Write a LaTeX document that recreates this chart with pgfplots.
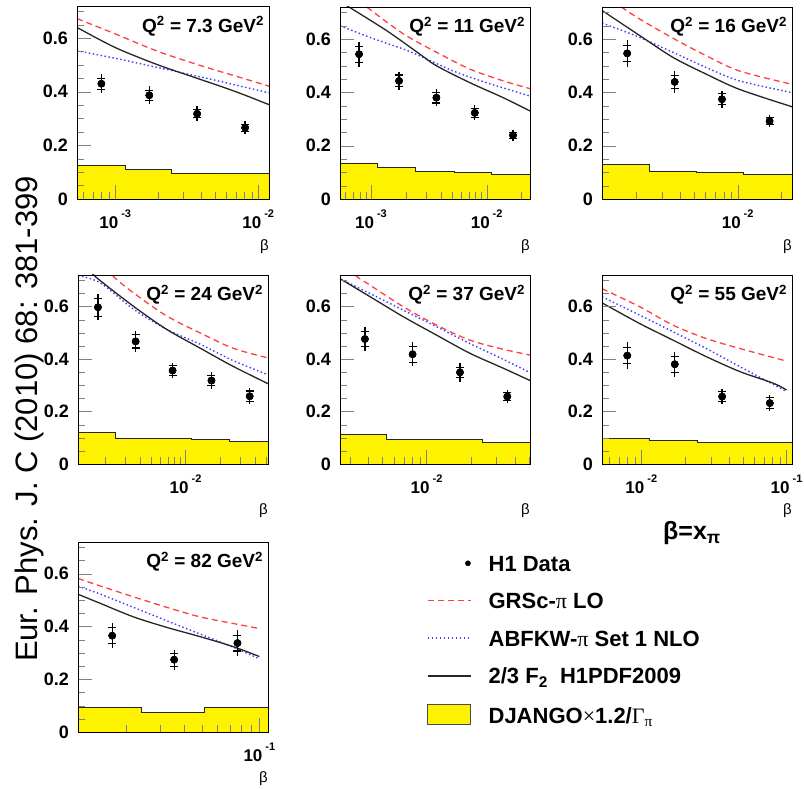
\documentclass[border=0pt]{standalone}
\usepackage{pgfplots}
\usepackage{pgfplotstable}
\pgfplotsset{compat=1.18}
\usepackage{fontspec}
\setmainfont{Liberation Sans}
\newfontfamily\symfont{Liberation Serif}
\definecolor{hred}{rgb}{1,0.25,0.25}
\definecolor{hblue}{rgb}{0.25,0.25,1}
\newcommand\decl[1]{\fontsize{17}{17}\selectfont\bfseries 10\hspace{3pt}\raisebox{11pt}{\fontsize{11}{11}\selectfont\bfseries #1}}
\newcommand\qtitle[1]{\node[anchor=base east, inner sep=0pt, font=\fontsize{19}{19}\selectfont\bfseries] at (rel axis cs:0.975,0.865) {Q\textsuperscript{2} = #1 GeV\textsuperscript{2}};}
\pgfplotsset{
 redc/.style={hred, line width=1.3pt, dash pattern=on 6pt off 4pt, smooth, no markers, forget plot},
 bluec/.style={hblue, line width=1.4pt, dash pattern=on 1.5pt off 2.5pt, smooth, no markers, forget plot},
 blackc/.style={black!85, line width=1.3pt, smooth, no markers, forget plot},
 yhist/.style={const plot, fill=yellow, draw=black!85, line width=0.9pt, no markers, forget plot},
}
\pgfplotstableread{
x y stat tot
8.0e-4 0.430 0.020 0.036
1.73e-3 0.387 0.018 0.033
3.74e-3 0.318 0.015 0.028
8.1e-3 0.266 0.013 0.025
}\tabA
\pgfplotstableread{
x y stat tot
7.9e-4 0.543 0.030 0.047
1.75e-3 0.443 0.022 0.035
3.68e-3 0.380 0.020 0.032
7.9e-3 0.323 0.018 0.028
1.69e-2 0.239 0.012 0.020
}\tabB
\pgfplotstableread{
x y stat tot
1.73e-3 0.546 0.030 0.050
3.68e-3 0.439 0.025 0.040
7.8e-3 0.374 0.020 0.032
1.66e-2 0.292 0.014 0.022
}\tabC
\pgfplotstableread{
x y stat tot
1.73e-3 0.597 0.035 0.050
3.68e-3 0.467 0.025 0.040
7.71e-3 0.356 0.018 0.030
1.68e-2 0.318 0.020 0.032
3.61e-2 0.258 0.020 0.030
}\tabD
\pgfplotstableread{
x y stat tot
3.8e-3 0.476 0.030 0.047
8.03e-3 0.418 0.030 0.045
1.69e-2 0.349 0.020 0.035
3.55e-2 0.257 0.015 0.025
}\tabE
\pgfplotstableread{
x y stat tot
8.0e-3 0.413 0.030 0.050
1.7e-2 0.380 0.030 0.048
3.6e-2 0.257 0.018 0.030
7.67e-2 0.232 0.020 0.032
}\tabF
\pgfplotstableread{
x y stat tot
1.68e-2 0.365 0.030 0.048
3.56e-2 0.274 0.025 0.038
7.67e-2 0.337 0.030 0.048
}\tabG
\newcommand\datapts[1]{%
\addplot[only marks, mark=*, mark size=3.6pt, black, forget plot,
   error bars/.cd, y dir=both, y explicit, error bar style={line width=1.3pt, black}, error mark=none]
   table[x=x, y=y, y error=tot] {#1};
\addplot[only marks, mark=*, mark size=3.6pt, black, forget plot,
   error bars/.cd, y dir=both, y explicit, error bar style={line width=1.3pt, black}, error mark=-,
   error mark options={rotate=90, line width=1.1pt, mark size=4pt, black}]
   table[x=x, y=y, y error=stat] {#1};}
\begin{document}
\begin{tikzpicture}
\useasboundingbox (0pt,0pt) rectangle (804pt,788pt);
\node[rotate=90, anchor=base, inner sep=0pt, font=\fontsize{31}{31}\selectfont] at (37pt,369pt) {Eur. Phys. J. C (2010) 68: 381-399};
\node[anchor=base, inner sep=0pt, font=\fontsize{25}{25}\selectfont\bfseries] at (692pt,248pt) {β=x\textsubscript{π}};

% ---------- Q2 = 7.3
\begin{axis}[scale only axis, xmode=log, ymin=0, ymax=0.72,
  ytick={0,0.2,0.4,0.6}, yticklabels={0,0.2,0.4,0.6},
  minor ytick={0.05,0.1,0.15,0.25,0.3,0.35,0.45,0.5,0.55,0.65,0.7},
  minor xtick={6e-4,7e-4,8e-4,9e-4,2e-3,3e-3,4e-3,5e-3,6e-3,7e-3,8e-3,9e-3,2e-2,3e-2,4e-2,5e-2,6e-2,7e-2,8e-2,9e-2},
  tick align=inside, xtick pos=bottom, ytick pos=left, axis on top,
  major tick length=14pt, minor tick length=7pt,
  axis line style={line width=0.9pt},
  yticklabel style={font=\fontsize{18}{18}\selectfont\bfseries, inner sep=0pt, xshift=-9pt},
  xticklabel style={inner sep=0pt, yshift=-11pt, anchor=north},
  xlabel={β}, xlabel style={at={(axis description cs:1,-0.21)}, anchor=north east, inner sep=0pt, font=\fontsize{15}{15}\selectfont},
  at={(77pt,589pt)}, anchor=south west, width=192pt, height=193pt,
  xmin=5.4e-4, xmax=1.19e-2, xtick={1e-3,1e-2}, xticklabels={\decl{-3},\decl{-2}}]
\addplot[yhist] coordinates {(5.4e-4,0.126) (1.17e-3,0.109) (2.48e-3,0.097) (5.37e-3,0.094) (1.19e-2,0.094)} \closedcycle;
\addplot[redc] coordinates {(5.4e-4,0.673) (1e-3,0.616) (2e-3,0.55) (4e-3,0.497) (7e-3,0.458) (1.19e-2,0.421)};
\addplot[bluec] coordinates {(5.4e-4,0.553) (1e-3,0.525) (2e-3,0.49) (4e-3,0.455) (7e-3,0.425) (1.19e-2,0.396)};
\addplot[blackc] coordinates {(5.4e-4,0.64) (1e-3,0.565) (2e-3,0.50) (4e-3,0.445) (7e-3,0.40) (1.19e-2,0.352)};
\datapts{\tabA}
\qtitle{7.3}
\end{axis}

% ---------- Q2 = 11
\begin{axis}[scale only axis, xmode=log, ymin=0, ymax=0.72,
  ytick={0,0.2,0.4,0.6}, yticklabels={0,0.2,0.4,0.6},
  minor ytick={0.05,0.1,0.15,0.25,0.3,0.35,0.45,0.5,0.55,0.65,0.7},
  minor xtick={6e-4,7e-4,8e-4,9e-4,2e-3,3e-3,4e-3,5e-3,6e-3,7e-3,8e-3,9e-3,2e-2,3e-2,4e-2,5e-2,6e-2,7e-2,8e-2,9e-2},
  tick align=inside, xtick pos=bottom, ytick pos=left, axis on top,
  major tick length=14pt, minor tick length=7pt,
  axis line style={line width=0.9pt},
  yticklabel style={font=\fontsize{18}{18}\selectfont\bfseries, inner sep=0pt, xshift=-9pt},
  xticklabel style={inner sep=0pt, yshift=-11pt, anchor=north},
  xlabel={β}, xlabel style={at={(axis description cs:1,-0.21)}, anchor=north east, inner sep=0pt, font=\fontsize{15}{15}\selectfont},
  at={(340pt,589pt)}, anchor=south west, width=190pt, height=192pt,
  xmin=5.4e-4, xmax=2.37e-2, xtick={1e-3,1e-2}, xticklabels={\decl{-3},\decl{-2}}]
\addplot[yhist] coordinates {(5.4e-4,0.135) (1.14e-3,0.118) (2.42e-3,0.102) (5.25e-3,0.098) (1.11e-2,0.091) (2.37e-2,0.091)} \closedcycle;
\addplot[redc] coordinates {(8e-4,0.745) (9.2e-4,0.72) (1.91e-3,0.619) (3.7e-3,0.55) (7.18e-3,0.487) (1.39e-2,0.443) (2.37e-2,0.414)};
\addplot[bluec] coordinates {(5.4e-4,0.65) (9.8e-4,0.606) (1.91e-3,0.562) (2.83e-3,0.531) (5.14e-3,0.48) (1e-2,0.436) (2.37e-2,0.386)};
\addplot[blackc] coordinates {(5.4e-4,0.745) (6.2e-4,0.725) (1.37e-3,0.631) (2.65e-3,0.543) (3.7e-3,0.499) (7.18e-3,0.436) (1.39e-2,0.38) (2.37e-2,0.33)};
\datapts{\tabB}
\qtitle{11}
\end{axis}

% ---------- Q2 = 16
\begin{axis}[scale only axis, xmode=log, ymin=0, ymax=0.72,
  ytick={0,0.2,0.4,0.6}, yticklabels={0,0.2,0.4,0.6},
  minor ytick={0.05,0.1,0.15,0.25,0.3,0.35,0.45,0.5,0.55,0.65,0.7},
  minor xtick={6e-4,7e-4,8e-4,9e-4,2e-3,3e-3,4e-3,5e-3,6e-3,7e-3,8e-3,9e-3,2e-2,3e-2,4e-2,5e-2,6e-2,7e-2,8e-2,9e-2},
  tick align=inside, xtick pos=bottom, ytick pos=left, axis on top,
  major tick length=14pt, minor tick length=7pt,
  axis line style={line width=0.9pt},
  yticklabel style={font=\fontsize{18}{18}\selectfont\bfseries, inner sep=0pt, xshift=-9pt},
  xticklabel style={inner sep=0pt, yshift=-11pt, anchor=north},
  xlabel={β}, xlabel style={at={(axis description cs:1,-0.21)}, anchor=north east, inner sep=0pt, font=\fontsize{15}{15}\selectfont},
  at={(602pt,589pt)}, anchor=south west, width=190pt, height=192pt,
  xmin=1.16e-3, xmax=2.37e-2, xtick={1e-2}, xticklabels={\decl{-2}}]
\addplot[yhist] coordinates {(1.16e-3,0.13) (2.45e-3,0.105) (5.19e-3,0.101) (1.10e-2,0.093) (2.37e-2,0.093)} \closedcycle;
\addplot[redc] coordinates {(1.4e-3,0.745) (1.53e-3,0.725) (2.11e-3,0.675) (3.58e-3,0.603) (6.08e-3,0.537) (1.03e-2,0.48) (2.37e-2,0.43)};
\addplot[bluec] coordinates {(1.16e-3,0.66) (2.11e-3,0.606) (3.58e-3,0.55) (6.08e-3,0.493) (1.03e-2,0.443) (2.37e-2,0.399)};
\addplot[blackc] coordinates {(1.16e-3,0.707) (2.11e-3,0.613) (3.58e-3,0.531) (6.08e-3,0.468) (1.03e-2,0.411) (2.37e-2,0.346)};
\datapts{\tabC}
\qtitle{16}
\end{axis}

% ---------- Q2 = 24
\begin{axis}[scale only axis, xmode=log, ymin=0, ymax=0.72,
  ytick={0,0.2,0.4,0.6}, yticklabels={0,0.2,0.4,0.6},
  minor ytick={0.05,0.1,0.15,0.25,0.3,0.35,0.45,0.5,0.55,0.65,0.7},
  minor xtick={6e-4,7e-4,8e-4,9e-4,2e-3,3e-3,4e-3,5e-3,6e-3,7e-3,8e-3,9e-3,2e-2,3e-2,4e-2,5e-2,6e-2,7e-2,8e-2,9e-2},
  tick align=inside, xtick pos=bottom, ytick pos=left, axis on top,
  major tick length=14pt, minor tick length=7pt,
  axis line style={line width=0.9pt},
  yticklabel style={font=\fontsize{18}{18}\selectfont\bfseries, inner sep=0pt, xshift=-9pt},
  xticklabel style={inner sep=0pt, yshift=-11pt, anchor=north},
  xlabel={β}, xlabel style={at={(axis description cs:1,-0.21)}, anchor=north east, inner sep=0pt, font=\fontsize{15}{15}\selectfont},
  at={(78pt,324pt)}, anchor=south west, width=190pt, height=189pt,
  xmin=1.16e-3, xmax=5.21e-2, xtick={1e-2}, xticklabels={\decl{-2}}]
\addplot[yhist] coordinates {(1.16e-3,0.12) (2.47e-3,0.096) (5.2e-3,0.098) (1.13e-2,0.092) (2.42e-2,0.085) (5.21e-2,0.085)} \closedcycle;
\addplot[redc] coordinates {(2.1e-3,0.75) (2.36e-3,0.714) (3.52e-3,0.652) (6.84e-3,0.564) (1.33e-2,0.50) (2.59e-2,0.441) (5.21e-2,0.404)};
\addplot[bluec] coordinates {(1.16e-3,0.718) (1.81e-3,0.69) (3.52e-3,0.59) (6.84e-3,0.513) (1.33e-2,0.457) (2.59e-2,0.394) (5.21e-2,0.34)};
\addplot[blackc] coordinates {(1.5e-3,0.74) (1.64e-3,0.714) (3.52e-3,0.601) (6.84e-3,0.513) (1.33e-2,0.442) (2.59e-2,0.372) (5.21e-2,0.306)};
\datapts{\tabD}
\qtitle{24}
\end{axis}

% ---------- Q2 = 37
\begin{axis}[scale only axis, xmode=log, ymin=0, ymax=0.72,
  ytick={0,0.2,0.4,0.6}, yticklabels={0,0.2,0.4,0.6},
  minor ytick={0.05,0.1,0.15,0.25,0.3,0.35,0.45,0.5,0.55,0.65,0.7},
  minor xtick={6e-4,7e-4,8e-4,9e-4,2e-3,3e-3,4e-3,5e-3,6e-3,7e-3,8e-3,9e-3,2e-2,3e-2,4e-2,5e-2,6e-2,7e-2,8e-2,9e-2},
  tick align=inside, xtick pos=bottom, ytick pos=left, axis on top,
  major tick length=14pt, minor tick length=7pt,
  axis line style={line width=0.9pt},
  yticklabel style={font=\fontsize{18}{18}\selectfont\bfseries, inner sep=0pt, xshift=-9pt},
  xticklabel style={inner sep=0pt, yshift=-11pt, anchor=north},
  xlabel={β}, xlabel style={at={(axis description cs:1,-0.21)}, anchor=north east, inner sep=0pt, font=\fontsize{15}{15}\selectfont},
  at={(340pt,324pt)}, anchor=south west, width=190pt, height=189pt,
  xmin=2.57e-3, xmax=5.07e-2, xtick={1e-2}, xticklabels={\decl{-2}}]
\addplot[yhist] coordinates {(2.57e-3,0.114) (5.33e-3,0.095) (1.12e-2,0.092) (2.4e-2,0.082) (5.07e-2,0.082)} \closedcycle;
\addplot[redc] coordinates {(3.0e-3,0.75) (3.35e-3,0.714) (4.13e-3,0.681) (6.94e-3,0.599) (1.17e-2,0.529) (1.97e-2,0.472) (3.33e-2,0.437) (5.07e-2,0.415)};
\addplot[bluec] coordinates {(2.57e-3,0.706) (4.13e-3,0.649) (6.94e-3,0.586) (1.17e-2,0.523) (1.97e-2,0.459) (3.33e-2,0.399) (5.07e-2,0.348)};
\addplot[blackc] coordinates {(2.57e-3,0.706) (4.13e-3,0.637) (6.94e-3,0.561) (1.17e-2,0.491) (1.97e-2,0.422) (3.33e-2,0.365) (5.07e-2,0.318)};
\datapts{\tabE}
\qtitle{37}
\end{axis}

% ---------- Q2 = 55
\begin{axis}[scale only axis, xmode=log, ymin=0, ymax=0.72,
  ytick={0,0.2,0.4,0.6}, yticklabels={0,0.2,0.4,0.6},
  minor ytick={0.05,0.1,0.15,0.25,0.3,0.35,0.45,0.5,0.55,0.65,0.7},
  minor xtick={6e-4,7e-4,8e-4,9e-4,2e-3,3e-3,4e-3,5e-3,6e-3,7e-3,8e-3,9e-3,2e-2,3e-2,4e-2,5e-2,6e-2,7e-2,8e-2,9e-2},
  tick align=inside, xtick pos=bottom, ytick pos=left, axis on top,
  major tick length=14pt, minor tick length=7pt,
  axis line style={line width=0.9pt},
  yticklabel style={font=\fontsize{18}{18}\selectfont\bfseries, inner sep=0pt, xshift=-9pt},
  xticklabel style={inner sep=0pt, yshift=-11pt, anchor=north},
  xlabel={β}, xlabel style={at={(axis description cs:1,-0.21)}, anchor=north east, inner sep=0pt, font=\fontsize{15}{15}\selectfont},
  at={(602pt,324pt)}, anchor=south west, width=190pt, height=189pt,
  xmin=5.36e-3, xmax=0.109, xtick={1e-2,1e-1}, xticklabels={\decl{-2},\decl{-1}}]
\addplot[yhist] coordinates {(5.36e-3,0.096) (1.14e-2,0.089) (2.42e-2,0.082) (5.15e-2,0.082) (0.109,0.082)} \closedcycle;
\addplot[redc] coordinates {(5.36e-3,0.668) (9.75e-3,0.599) (1.65e-2,0.529) (2.8e-2,0.478) (4.77e-2,0.44) (0.1,0.392)};
\addplot[bluec] coordinates {(5.36e-3,0.637) (9.75e-3,0.567) (1.65e-2,0.504) (2.8e-2,0.44) (4.77e-2,0.371) (0.1,0.276)};
\addplot[blackc] coordinates {(5.36e-3,0.614) (9.75e-3,0.535) (1.65e-2,0.472) (2.8e-2,0.409) (4.77e-2,0.352) (8.09e-2,0.308) (0.1,0.282)};
\datapts{\tabF}
\qtitle{55}
\end{axis}

% ---------- Q2 = 82
\begin{axis}[scale only axis, xmode=log, ymin=0, ymax=0.72,
  ytick={0,0.2,0.4,0.6}, yticklabels={0,0.2,0.4,0.6},
  minor ytick={0.05,0.1,0.15,0.25,0.3,0.35,0.45,0.5,0.55,0.65,0.7},
  minor xtick={6e-4,7e-4,8e-4,9e-4,2e-3,3e-3,4e-3,5e-3,6e-3,7e-3,8e-3,9e-3,2e-2,3e-2,4e-2,5e-2,6e-2,7e-2,8e-2,9e-2},
  tick align=inside, xtick pos=bottom, ytick pos=left, axis on top,
  major tick length=14pt, minor tick length=7pt,
  axis line style={line width=0.9pt},
  yticklabel style={font=\fontsize{18}{18}\selectfont\bfseries, inner sep=0pt, xshift=-9pt},
  xticklabel style={inner sep=0pt, yshift=-11pt, anchor=north},
  xlabel={β}, xlabel style={at={(axis description cs:1,-0.21)}, anchor=north east, inner sep=0pt, font=\fontsize{15}{15}\selectfont},
  at={(78pt,56pt)}, anchor=south west, width=190pt, height=190pt,
  xmin=1.11e-2, xmax=0.111, xtick={1e-1}, xticklabels={\decl{-1}},
  legend style={at={(axis description cs:1.837,0.937)}, anchor=north west, draw=white, fill=none,
    inner sep=0pt, row sep=16.5pt, column sep=15pt, cells={anchor=base west},
    font=\fontsize{22}{22}\selectfont\bfseries},
  legend image code/.code={\draw[#1] (0pt,8pt) -- (43pt,8pt);}]
\addplot[yhist] coordinates {(1.11e-2,0.092) (2.39e-2,0.074) (5.13e-2,0.092) (0.111,0.092)} \closedcycle;
\addplot[redc] coordinates {(1.11e-2,0.582) (1.46e-2,0.553) (2.18e-2,0.512) (3.27e-2,0.472) (4.89e-2,0.436) (7.31e-2,0.411) (0.1,0.392)};
\addplot[bluec] coordinates {(1.11e-2,0.553) (1.46e-2,0.522) (2.18e-2,0.472) (3.27e-2,0.421) (4.89e-2,0.371) (7.31e-2,0.321) (0.1,0.277)};
\addplot[blackc] coordinates {(1.11e-2,0.522) (1.46e-2,0.487) (2.18e-2,0.436) (3.27e-2,0.396) (4.89e-2,0.361) (7.31e-2,0.323) (0.1,0.286)};
\datapts{\tabG}
\qtitle{82}
\addlegendimage{legend image code/.code={\fill[black] (40pt,8pt) circle (2.6pt);}}
\addlegendentry{H1 Data}
\addlegendimage{hred, line width=1.3pt, dash pattern=on 6pt off 4pt}
\addlegendentry{GRSc-{\symfont\mdseries π} LO}
\addlegendimage{hblue, line width=1.4pt, dash pattern=on 1.5pt off 2.5pt}
\addlegendentry{ABFKW-{\symfont\mdseries π} Set 1 NLO}
\addlegendimage{black!85, line width=1.3pt}
\addlegendentry{2/3 F\textsubscript{2}\ \ H1PDF2009}
\addlegendimage{legend image code/.code={\draw[fill=yellow, draw=black!70, line width=1pt] (0pt,-1pt) rectangle (43pt,19pt);}}
\addlegendentry{DJANGO{\symfont\mdseries ×}1.2/{\symfont\mdseries Γ}\textsubscript{\symfont\mdseries π}}
\end{axis}
\end{tikzpicture}
\end{document}
